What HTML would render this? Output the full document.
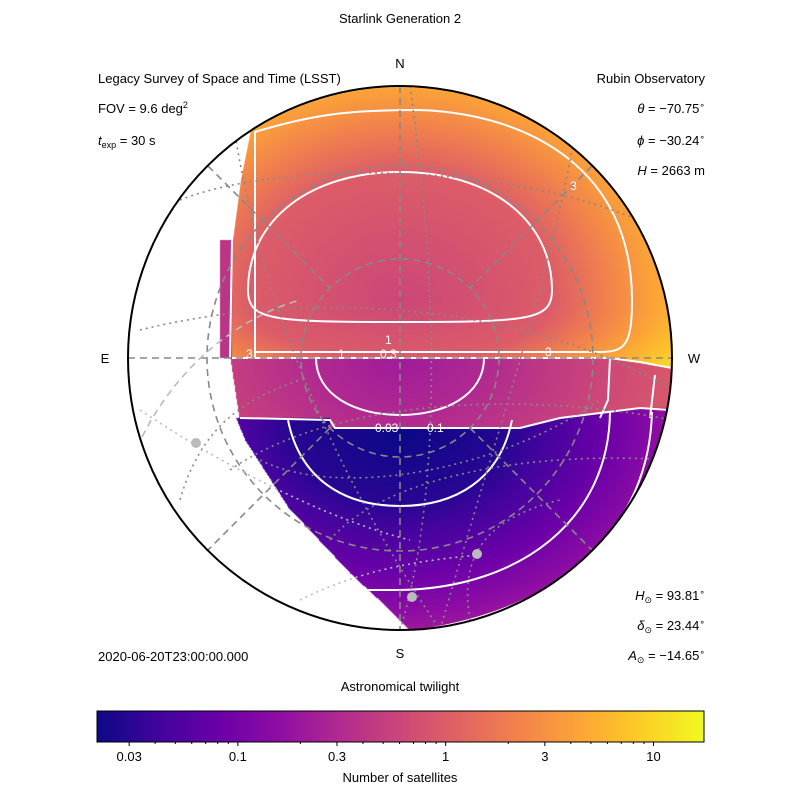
<!DOCTYPE html>
<html><head><meta charset="utf-8"><style>
body{margin:0;background:#fff;width:800px;height:800px;overflow:hidden;font-family:"Liberation Sans","DejaVu Sans",sans-serif}
#wrap{position:relative;width:800px;height:800px}
canvas,svg{position:absolute;left:0;top:0}
</style></head><body><div id="wrap">
<canvas id="cv" width="800" height="800"></canvas>
<svg id="sv" width="800" height="800" font-size="13" fill="#000">
<defs>
<linearGradient id="plasma" x1="0" x2="1" y1="0" y2="0">
<stop offset="0" stop-color="#0d0887"/><stop offset="0.1" stop-color="#41049d"/><stop offset="0.2" stop-color="#6a00a8"/><stop offset="0.3" stop-color="#8f0da4"/><stop offset="0.4" stop-color="#b12a90"/><stop offset="0.5" stop-color="#cc4778"/><stop offset="0.6" stop-color="#e16462"/><stop offset="0.7" stop-color="#f2844b"/><stop offset="0.8" stop-color="#fca636"/><stop offset="0.9" stop-color="#fcce25"/><stop offset="1" stop-color="#f0f921"/>
</linearGradient>
<clipPath id="disk"><circle cx="400" cy="358" r="272"/></clipPath>
<clipPath id="top"><rect x="128" y="80" width="544" height="278"/></clipPath>
<clipPath id="mid"><rect x="128" y="358" width="544" height="64"/></clipPath>
<clipPath id="bot"><polygon points="240,428 245,440 288,507 350,573 390,610 412,632 700,632 700,412 128,412"/></clipPath>
</defs>
<g clip-path="url(#disk)" fill="none">
<g stroke="#fff" stroke-width="2">
<path clip-path="url(#top)" d="M248,290 C248,220 310,172 400,172 C490,172 552,220 552,290 C552,320 530,322 400,322 C270,322 248,320 248,290 Z"/>
<path clip-path="url(#top)" d="M255,360 L255,132 C320,112 360,110 420,110 C530,114 632,170 632,300 C632,345 625,352 600,352 L255,352"/>
<path clip-path="url(#mid)" d="M316,358 C316,395 355,415 400,415 C445,415 484,395 484,358"/>
<path clip-path="url(#mid)" d="M610,358 L608,400 L600,418 M655,375 L650,418"/>
<path clip-path="url(#bot)" d="M288,420 C300,480 345,506 400,506 C455,506 500,480 512,420"/>
<path clip-path="url(#bot)" d="M610,410 C610,520 520,588 400,590 L330,590"/>
<path clip-path="url(#bot)" d="M652,410 C650,530 560,610 420,630"/>
<path d="M232,358 L610,358 L640,362 L672,368"/>
<path d="M240,418 L330,420 L335,428 L520,428 L560,418 L600,413 L640,408 L670,410"/>
<path d="M250,130 L240,180 L232,240 L230,358"/>
</g>
<g stroke="#888" stroke-width="1.6" stroke-dasharray="7,5">
<circle cx="400" cy="358" r="99"/><circle cx="400" cy="358" r="193"/>
<line x1="128" y1="358" x2="672" y2="358"/><line x1="400" y1="86" x2="400" y2="630"/>
<line x1="208" y1="166" x2="330" y2="288"/><line x1="470" y1="428" x2="592" y2="550"/>
<line x1="592" y1="166" x2="470" y2="288"/><line x1="330" y1="428" x2="208" y2="550"/>
</g>
<g stroke="#888" stroke-width="1.6" stroke-dasharray="2,4">
<path d="M180,200 C280,160 520,160 660,230"/>
<path d="M140,330 C300,290 520,300 672,390"/>
<path d="M230,470 C330,400 520,390 672,420"/>
<path d="M330,540 C380,480 520,450 672,460"/>
<path d="M410,86 C440,300 440,500 400,630"/>
<path d="M180,500 C200,430 240,400 300,380"/>
<path d="M260,460 C340,500 500,470 600,400"/>
<path d="M470,620 C460,560 480,520 560,500"/>
<path d="M230,100 C250,250 300,420 440,630"/>
<path d="M580,100 C560,250 500,420 440,630"/>
</g>
<g stroke="#bbb" stroke-width="1.6" stroke-dasharray="7,5" fill="none">
<path d="M128,470 C160,380 230,320 300,300"/>
</g>
<g stroke="#bbb" stroke-width="1.6" stroke-dasharray="2,4"><path d="M140,410 C230,470 330,520 410,540"/><path d="M300,600 C360,570 420,560 480,555"/></g>
</g>
<g fill="#fff" font-size="12">
<text x="385" y="344">1</text><text x="338" y="358">1</text><text x="380" y="358">0.3</text><text x="246" y="358">3</text><text x="545" y="356">3</text><text x="570" y="190">3</text>
<text x="375" y="432">0.03</text><text x="427" y="432">0.1</text>
</g>
<circle cx="196" cy="443" r="5" fill="#bbb"/>
<circle cx="477" cy="554" r="5" fill="#bbb"/>
<circle cx="412" cy="597" r="5" fill="#bbb"/>
<circle cx="400" cy="358" r="272" fill="none" stroke="#000" stroke-width="2"/>
<text x="400" y="23" text-anchor="middle">Starlink Generation 2</text>
<text x="400" y="68" text-anchor="middle">N</text>
<text x="400" y="658" text-anchor="middle">S</text>
<text x="105" y="363" text-anchor="middle">E</text>
<text x="694" y="363" text-anchor="middle">W</text>
<g>
<text x="98" y="83">Legacy Survey of Space and Time (LSST)</text>
<text x="98" y="113">FOV = 9.6 deg<tspan dy="-5" font-size="9">2</tspan></text>
<text x="98" y="145"><tspan font-style="italic">t</tspan><tspan dy="3" font-size="9">exp</tspan><tspan dy="-3"> = 30 s</tspan></text>
<text x="98" y="661">2020-06-20T23:00:00.000</text>
</g>
<g text-anchor="end">
<text x="705" y="83">Rubin Observatory</text>
<text x="705" y="113"><tspan font-style="italic">θ</tspan> = −70.75<tspan dy="-5" font-size="9">∘</tspan></text>
<text x="705" y="145"><tspan font-style="italic">ϕ</tspan> = −30.24<tspan dy="-5" font-size="9">∘</tspan></text>
<text x="705" y="175"><tspan font-style="italic">H</tspan> = 2663 m</text>
<text x="705" y="600"><tspan font-style="italic">H</tspan><tspan dy="3" font-size="9">⊙</tspan><tspan dy="-3"> = 93.81</tspan><tspan dy="-5" font-size="9">∘</tspan></text>
<text x="705" y="630"><tspan font-style="italic">δ</tspan><tspan dy="3" font-size="9">⊙</tspan><tspan dy="-3"> = 23.44</tspan><tspan dy="-5" font-size="9">∘</tspan></text>
<text x="705" y="660"><tspan font-style="italic">A</tspan><tspan dy="3" font-size="9">⊙</tspan><tspan dy="-3"> = −14.65</tspan><tspan dy="-5" font-size="9">∘</tspan></text>
</g>
<text x="400" y="691" text-anchor="middle">Astronomical twilight</text>
<rect x="97" y="711" width="607" height="31" fill="url(#plasma)" stroke="#000" stroke-width="1"/>
<g id="cbticks"></g>
<text x="400" y="782" text-anchor="middle">Number of satellites</text>
</svg>
<script>
const cbMin = 0.021, cbMax = 17.5;
const majorTicks = [0.03, 0.1, 0.3, 1, 3, 10];
const majorLabels = ["0.03", "0.1", "0.3", "1", "3", "10"];
const minorTicks = [0.04,0.05,0.06,0.07,0.08,0.09,0.2,0.4,0.5,0.6,0.7,0.8,0.9,2,4,5,6,7,8,9];
// field anchors (log10 values) per region
const topVals = [-0.22, 0, 0.477, 0.95];
const midVals = [-0.66, -0.52, -0.1];
const botVals = [-1.7, -1.52, -1.0, -0.65];
const lo = Math.log10(cbMin), hi = Math.log10(cbMax);
function cbX(v){return 97 + (Math.log10(v)-lo)/(hi-lo)*607;}
const NS = "http://www.w3.org/2000/svg";
const g = document.getElementById('cbticks');
majorTicks.forEach((v,i)=>{
  const l=document.createElementNS(NS,'line');
  
  
  l.setAttribute('x1',cbX(v));l.setAttribute('x2',cbX(v));l.setAttribute('y1',742);l.setAttribute('y2',746);l.setAttribute('stroke','#000');
  g.appendChild(l);
  const t=document.createElementNS(NS,'text');
  
  
  t.setAttribute('x',cbX(v));t.setAttribute('y',761);t.setAttribute('text-anchor','middle');t.textContent=majorLabels[i];
  g.appendChild(t);
});
minorTicks.forEach(v=>{
  const l=document.createElementNS(NS,'line');
  
  
  l.setAttribute('x1',cbX(v));l.setAttribute('x2',cbX(v));l.setAttribute('y1',742);l.setAttribute('y2',744);l.setAttribute('stroke','#000');
  g.appendChild(l);
});
const stops=[[13,8,135],[65,4,157],[106,0,168],[143,13,164],[177,42,144],[204,71,120],[225,100,98],[242,132,75],[252,166,54],[252,206,37],[240,249,33]];
function cmap(lv){let t=(lv-lo)/(hi-lo);t=Math.max(0,Math.min(1,t))*10;const i=Math.min(9,Math.floor(t)),f=t-i;return stops[i].map((c,k)=>c+(stops[i+1][k]-c)*f);}
function interp(arr,steps,d){for(let i=0;i<steps.length-1;i++){if(d<=steps[i+1]){const f=(d-steps[i])/(steps[i+1]-steps[i]);return arr[i]+(arr[i+1]-arr[i])*f;}}const n=steps.length;return arr[n-1]+(arr[n-1]-arr[n-2])/(steps[n-1]-steps[n-2])*(d-steps[n-1]);}
function lowerB(x){if(x<330)return 418;if(x<520)return 428;if(x<560)return 428-(x-520)*0.25;if(x<640)return 418-(x-560)*0.125;return 408;}
function upperB(x){if(x<610)return 358;return 358+(x-610)*0.16;}
function botLeft(y){const p=[[428,240],[440,245],[507,288],[573,350],[610,390],[632,412]];for(let i=0;i<p.length-1;i++){if(y<=p[i+1][0]){const f=(y-p[i][0])/(p[i+1][0]-p[i][0]);return p[i][1]+(p[i+1][1]-p[i][1])*f;}}return 412;}
function topLeft(y){if(y<130)return 252;if(y<180)return 250-(y-130)*0.2;if(y<240)return 240-(y-180)*0.13;return 220;}
const cv=document.getElementById('cv'),ctx=cv.getContext('2d'),img=ctx.createImageData(800,800);
for(let y=80;y<640;y++)for(let x=120;x<680;x++){
  const dx=x-400,dy=y-358;if(dx*dx+dy*dy>272*272)continue;
  let lv=null;
  if(y<upperB(x)){ if(x<topLeft(y))continue;
    const ry=y<300?128:60;const d=Math.sqrt(((x-400)/152)**2+((y-300)/ry)**2);
    lv=interp(topVals,[0,1,1.5,2],d); if(x<232)lv=-0.4;
  } else if(y<lowerB(x)){ if(x<230+(y-358)*0.15)continue;
    const d=Math.sqrt(((x-400)/84)**2+((y-358)/58)**2);
    lv=interp(midVals,[0,1,3],d);
  } else { if(x<botLeft(y))continue;
    const d=Math.sqrt(((x-400)/111)**2+((y-425)/80)**2);
    lv=interp(botVals,[0,1,2,2.6],d);
  }
  const c=cmap(lv),o=(y*800+x)*4;img.data[o]=c[0];img.data[o+1]=c[1];img.data[o+2]=c[2];img.data[o+3]=255;
}
ctx.putImageData(img,0,0);
</script>
</div></body></html>
